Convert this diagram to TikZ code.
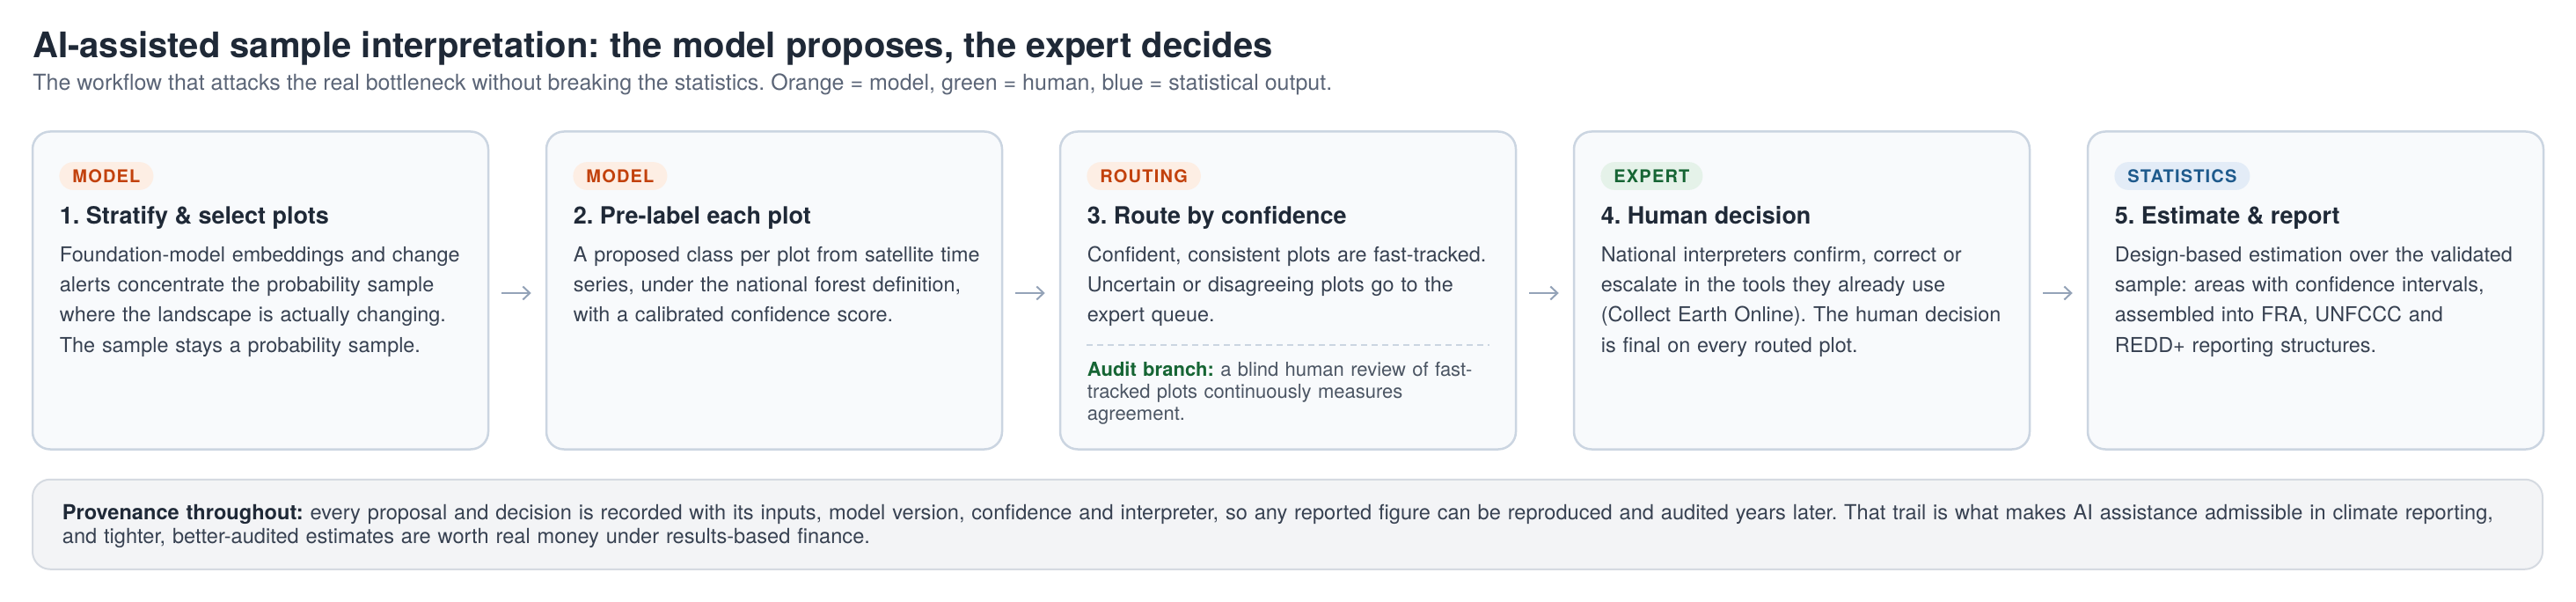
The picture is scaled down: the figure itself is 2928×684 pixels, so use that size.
\documentclass[tikz,border=0pt]{standalone}
\usepackage{fontspec}
\setmainfont{TeX Gyre Heros}
\newfontfamily\pillfont{TeX Gyre Heros}[LetterSpace=6]
\usetikzlibrary{arrows.meta}
\frenchspacing
\definecolor{titlec}{HTML}{1F2937}
\definecolor{subc}{HTML}{5B6577}
\definecolor{headc}{HTML}{1F2937}
\definecolor{bodyc}{HTML}{374151}
\definecolor{cardf}{HTML}{F8FAFC}
\definecolor{cardb}{HTML}{CBD5E1}
\definecolor{notef}{HTML}{F3F4F6}
\definecolor{noteb}{HTML}{D5DAE1}
\definecolor{arrowc}{HTML}{94A3B8}
\definecolor{orgbg}{HTML}{FDEEE4}
\definecolor{orgtx}{HTML}{C2410C}
\definecolor{grnbg}{HTML}{E5F2E9}
\definecolor{grntx}{HTML}{166534}
\definecolor{blubg}{HTML}{E3ECF7}
\definecolor{blutx}{HTML}{1E5A8C}
\definecolor{auditc}{HTML}{4B5563}
\begin{document}
\frenchspacing
\begin{tikzpicture}[x=0.5pt,y=-0.5pt,
  card/.style={draw=cardb, line width=1.25pt, fill=cardf, rounded corners=10pt,
    minimum width=259pt, minimum height=180.5pt, inner sep=0pt},
  pill/.style={rounded corners=7.9pt, minimum height=15.85pt, inner xsep=7.5pt,
    inner ysep=0pt, text height=7.2pt, text depth=0pt, anchor=west,
    font={\pillfont\bfseries\fontsize{10pt}{12pt}\selectfont}},
  modelpill/.style={pill, fill=orgbg, text=orgtx},
  expertpill/.style={pill, fill=grnbg, text=grntx},
  statpill/.style={pill, fill=blubg, text=blutx},
  head/.style={anchor=base west, inner sep=0pt, text=headc,
    font={\bfseries\fontsize{13.5pt}{16pt}\selectfont}},
  body/.style={anchor=base west, inner sep=0pt, text=bodyc, text width=250pt,
    align=left, font={\fontsize{11.7pt}{17.15pt}\selectfont}},
  audit/.style={anchor=base west, inner sep=0pt, text=auditc, text width=250pt,
    align=left, font={\fontsize{11pt}{12.5pt}\selectfont}},
  flow/.style={draw=arrowc, line width=1pt, -{Straight Barb[length=4pt,width=7.5pt]}},
  sep/.style={draw=cardb, line width=0.6pt, dash pattern=on 3.5pt off 2.5pt},
  note/.style={draw=noteb, line width=1pt, fill=notef, rounded corners=10pt,
    minimum width=1426.5pt, minimum height=51pt, inner sep=0pt}
]
\useasboundingbox (0,0) rectangle (2928,684);
\fill[white] (0,0) rectangle (2928,684);

% title
\node[anchor=base west, inner sep=0pt, text=titlec,
  font={\bfseries\fontsize{20pt}{24pt}\selectfont}] (title) at (37,66)
  {AI-assisted sample interpretation: the model proposes, the expert decides};
\node[anchor=base west, inner sep=0pt, text=subc,
  font={\fontsize{12.5pt}{15pt}\selectfont}] (subtitle) at (37,102.5)
  {The workflow that attacks the real bottleneck without breaking the statistics. Orange = model, green = human, blue = statistical output.};

% cards
\node[card] (b1) at (296,330) {};
\node[card] (b2) at (880,330) {};
\node[card] (b3) at (1464,330) {};
\node[card] (b4) at (2048,330) {};
\node[card] (b5) at (2632,330) {};

% card 1
\node[modelpill] (p1) at (67,200) {MODEL};
\node[head] (h1) at (67.5,254.5) {1. Stratify \& select plots};
\node[body] (t1) at (67.5,297.3) {Foundation-model embeddings and change\\alerts concentrate the probability sample\\where the landscape is actually changing.\\The sample stays a probability sample.};

% card 2
\node[modelpill] (p2) at (651,200) {MODEL};
\node[head] (h2) at (651.5,254.5) {2. Pre-label each plot};
\node[body] (t2) at (651.5,297.3) {A proposed class per plot from satellite time\\series, under the national forest definition,\\with a calibrated confidence score.};

% card 3
\node[modelpill] (p3) at (1235,200) {ROUTING};
\node[head] (h3) at (1235.5,254.5) {3. Route by confidence};
\node[body] (t3) at (1235.5,297.3) {Confident, consistent plots are fast-tracked.\\Uncertain or disagreeing plots go to the\\expert queue.};
\draw[sep] (1235,392) -- (1693,392);
\node[audit] (a3) at (1235.5,427.3) {\textcolor{grntx}{\bfseries Audit branch:} a blind human review of fast-\\tracked plots continuously measures\\agreement.};

% card 4
\node[expertpill] (p4) at (1819,200) {EXPERT};
\node[head] (h4) at (1819.5,254.5) {4. Human decision};
\node[body] (t4) at (1819.5,297.3) {National interpreters confirm, correct or\\escalate in the tools they already use\\(Collect Earth Online). The human decision\\is final on every routed plot.};

% card 5
\node[statpill] (p5) at (2403,200) {STATISTICS};
\node[head] (h5) at (2403.5,254.5) {5. Estimate \& report};
\node[body] (t5) at (2403.5,297.3) {Design-based estimation over the validated\\sample: areas with confidence intervals,\\assembled into FRA, UNFCCC and\\REDD+ reporting structures.};

% arrows
\draw[flow] ([xshift=7pt,yshift=-1.5pt]b1.east) -- ([xshift=-8pt,yshift=-1.5pt]b2.west);
\draw[flow] ([xshift=7pt,yshift=-1.5pt]b2.east) -- ([xshift=-8pt,yshift=-1.5pt]b3.west);
\draw[flow] ([xshift=7pt,yshift=-1.5pt]b3.east) -- ([xshift=-8pt,yshift=-1.5pt]b4.west);
\draw[flow] ([xshift=7pt,yshift=-1.5pt]b4.east) -- ([xshift=-8pt,yshift=-1.5pt]b5.west);

% provenance note
\node[note] (prov) at (1463.5,595.75) {};
\node[anchor=base west, inner sep=0pt, text=bodyc, text width=1420pt, align=left,
  font={\fontsize{11.8pt}{13.65pt}\selectfont}] (provtext) at (70.5,590)
  {\textcolor{headc}{\bfseries Provenance throughout:} every proposal and decision is recorded with its inputs, model version, confidence and interpreter, so any reported figure can be reproduced and audited years later. That trail is what makes AI assistance admissible in climate reporting,\\and tighter, better-audited estimates are worth real money under results-based finance.};
\end{tikzpicture}
\end{document}
